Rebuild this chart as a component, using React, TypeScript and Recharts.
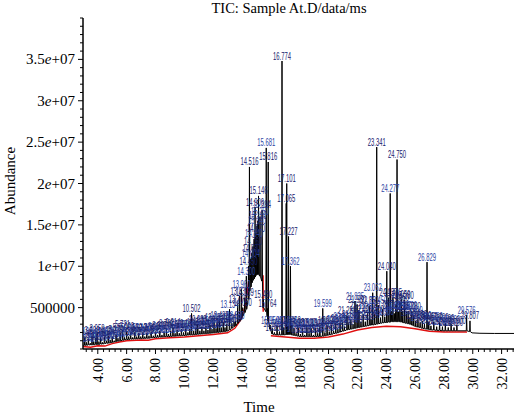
import { ComposedChart, Line, Scatter, XAxis, YAxis } from "recharts";

const W = 514;
const H = 415;

const TITLE = "TIC: Sample At.D/data/ms";

// peaks: [retention time (min), apex (x1e6), foot level (x1e6)]
const earlyPeaks = [
  [3.1, 1.5, 0.45], [3.22, 0.8, 0.45], [3.35, 1.2, 0.5], [3.48, 0.7, 0.5],
  [3.6, 1.6, 0.5], [3.72, 0.9, 0.5], [3.85, 1.3, 0.55], [3.95, 1.9, 0.55],
  [4.08, 0.9, 0.55], [4.2, 1.4, 0.6], [4.33, 0.8, 0.6], [4.46, 1.5, 0.65],
  [4.6, 1.0, 0.7], [4.73, 1.6, 0.7], [4.86, 1.1, 0.75], [5.0, 1.5, 0.8],
  [5.14, 1.0, 0.85], [5.27, 1.8, 0.9], [5.4, 1.3, 0.95], [5.55, 2.0, 1.0],
  [5.721, 2.3, 1.05], [5.85, 1.4, 1.1], [6.0, 2.1, 1.15], [6.14, 1.5, 1.15],
  [6.28, 1.9, 1.2], [6.42, 1.4, 1.2], [6.56, 2.0, 1.22], [6.7, 1.5, 1.22],
  [6.84, 1.9, 1.25], [6.98, 1.5, 1.25], [7.12, 2.0, 1.28], [7.26, 1.5, 1.28],
  [7.4, 1.9, 1.3], [7.55, 1.6, 1.3], [7.7, 2.0, 1.35], [7.85, 1.6, 1.38],
  [8.0, 2.1, 1.4], [8.15, 1.7, 1.42], [8.3, 2.2, 1.45], [8.45, 1.7, 1.45],
  [8.6, 2.1, 1.48], [8.76, 2.5, 1.5], [8.9, 1.8, 1.5], [9.05, 2.2, 1.52],
  [9.214, 2.6, 1.55], [9.36, 1.9, 1.55], [9.5, 2.3, 1.58], [9.65, 1.9, 1.6],
  [9.8, 2.4, 1.6], [9.95, 2.0, 1.62], [10.1, 2.5, 1.65], [10.25, 2.0, 1.68],
  [10.38, 2.4, 1.7], [10.502, 4.3, 1.7], [10.65, 2.2, 1.72], [10.8, 2.6, 1.75],
  [10.935, 3.0, 1.78], [11.08, 2.2, 1.8], [11.22, 2.7, 1.82], [11.36, 2.2, 1.85],
  [11.5, 2.8, 1.85], [11.64, 2.3, 1.88], [11.78, 2.9, 1.9], [11.92, 2.4, 1.92],
  [12.06, 3.2, 1.95], [12.2, 2.5, 1.98], [12.32, 3.0, 2.0], [12.437, 3.4, 2.02],
  [12.56, 2.6, 2.05], [12.7, 3.2, 2.08], [12.82, 2.6, 2.1], [12.95, 3.0, 2.15],
];

const clusterPeaks = [
  [13.134, 4.8, 2.3], [13.3, 3.1, 2.5], [13.45, 3.3, 2.7], [13.55, 3.4, 2.8],
  [13.7, 5.4, 3.1], [13.83, 6.4, 3.4], [13.96, 7.2, 3.7], [14.05, 5.0, 4.0],
  [14.189, 6.2, 4.4], [14.3, 8.8, 4.8], [14.45, 10.0, 6.0], [14.516, 22.0, 7.0],
  [14.604, 10.9, 7.5], [14.68, 11.6, 8.0], [14.76, 12.4, 8.3], [14.84, 13.3, 8.5],
  [14.906, 17.1, 8.7], [14.97, 14.0, 8.9], [15.04, 14.9, 9.0], [15.1, 15.5, 9.0],
  [15.146, 18.5, 9.0], [15.25, 16.0, 8.8], [15.394, 16.8, 8.2], [15.48, 6.0, 5.0],
  [15.681, 24.3, 4.5], [15.764, 4.9, 4.0], [15.816, 22.6, 3.4], [15.95, 2.9, 2.4],
];

const midPeaks = [
  [16.1, 2.5, 1.8], [16.25, 2.0, 1.75], [16.431, 2.8, 1.7], [16.6, 2.1, 1.7],
  [16.774, 34.8, 1.7], [16.9, 2.6, 1.7], [17.065, 17.6, 1.75], [17.101, 20.0, 1.75],
  [17.18, 2.8, 1.75], [17.227, 13.6, 1.75], [17.3, 2.2, 1.75], [17.362, 10.0, 1.75],
  [17.46, 2.9, 1.7], [17.608, 2.5, 1.65], [17.75, 1.9, 1.6], [17.9, 2.6, 1.55],
  [18.05, 1.8, 1.5], [18.2, 2.5, 1.5], [18.35, 1.7, 1.5], [18.5, 2.6, 1.5],
  [18.65, 1.9, 1.5], [18.8, 2.5, 1.5], [18.95, 1.7, 1.5], [19.1, 2.5, 1.5],
  [19.25, 1.9, 1.52], [19.4, 2.6, 1.52], [19.599, 4.9, 1.55], [19.75, 2.0, 1.6],
  [19.9, 2.8, 1.65], [20.05, 2.1, 1.7], [20.2, 2.9, 1.75], [20.35, 2.2, 1.85],
  [20.5, 3.0, 1.9], [20.65, 2.4, 1.95], [20.8, 3.1, 2.05], [20.972, 3.3, 2.15],
];

const latePeaks = [
  [21.1, 2.7, 2.2], [21.28, 4.0, 2.3], [21.4, 3.1, 2.35], [21.55, 3.6, 2.4],
  [21.7, 3.0, 2.45], [21.835, 5.8, 2.5], [21.98, 5.4, 2.55], [22.11, 4.7, 2.6],
  [22.25, 3.3, 2.65], [22.4, 4.2, 2.7], [22.55, 3.3, 2.75], [22.7, 4.3, 2.8],
  [22.85, 5.2, 2.85], [22.95, 3.6, 2.9], [23.062, 6.8, 2.9], [23.2, 4.2, 2.95],
  [23.341, 24.4, 3.0], [23.45, 5.3, 3.05], [23.6, 3.8, 3.1], [23.75, 4.8, 3.15],
  [23.9, 3.9, 3.2], [24.04, 9.4, 3.2], [24.157, 6.2, 3.25], [24.277, 18.8, 3.25],
  [24.38, 4.6, 3.3], [24.465, 6.2, 3.3], [24.56, 4.3, 3.3], [24.66, 5.4, 3.3],
  [24.75, 22.9, 3.3], [24.85, 4.5, 3.3], [24.95, 5.6, 3.3], [25.05, 6.0, 3.25],
  [25.15, 4.6, 3.2], [25.28, 5.9, 3.15], [25.4, 4.5, 3.1], [25.52, 4.6, 3.05],
  [25.65, 3.8, 3.0], [25.78, 4.5, 2.9], [25.909, 4.1, 2.8], [26.05, 3.4, 2.7],
  [26.2, 3.6, 2.65], [26.35, 3.2, 2.6], [26.5, 3.4, 2.5], [26.65, 3.0, 2.45],
  [26.829, 10.5, 2.4], [26.95, 3.3, 2.35], [27.1, 2.8, 2.3], [27.3, 3.3, 2.3],
  [27.5, 2.7, 2.25], [27.7, 3.2, 2.25], [27.9, 2.7, 2.2], [28.1, 3.1, 2.2],
  [28.3, 2.6, 2.2], [28.5, 3.0, 2.2], [28.7, 2.6, 2.2], [28.9, 2.9, 2.2],
  [29.576, 4.1, 2.2], [29.807, 3.4, 2.1],
];

// trace points without a peak: [time, level (x1e6)]
const startTrace = [[2.98, 0.45]];
const tailTrace = [[29.95, 1.95], [30.5, 1.9], [31.5, 1.88], [32.86, 1.88]];

// red integration baseline, null = gap
const redBaseline: [number, number | null][] = [
  [2.98, 0.3], [3.5, 0.2], [4.0, 0.4], [4.5, 0.35], [5.0, 0.65], [5.5, 0.85],
  [6.0, 1.0], [7.0, 1.1], [7.5, 1.05], [8.0, 1.25], [9.0, 1.35], [10.0, 1.45],
  [11.0, 1.6], [12.0, 1.75], [13.0, 1.95], [13.5, 2.5], [13.9, 3.5], [14.2, 5.0],
  [14.5, 8.5], [14.52, null], [15.46, 8.9], [15.47, 4.5], [15.5, null],
  [16.0, 1.6], [17.0, 1.45], [18.0, 1.3], [19.0, 1.3], [20.0, 1.45], [21.0, 1.8],
  [22.0, 2.3], [23.0, 2.6], [24.0, 2.75], [25.0, 2.7], [26.0, 2.45], [27.0, 2.15],
  [28.0, 2.05], [29.0, 2.05], [29.6, 2.05],
];

const xMajor = [4, 6, 8, 10, 12, 14, 16, 18, 20, 22, 24, 26, 28, 30, 32];
const xLabels = ["4.00", "6.00", "8.00", "10.00", "12.00", "14.00", "16.00", "18.00",
  "20.00", "22.00", "24.00", "26.00", "28.00", "30.00", "32.00"];
const yMajor = [5e6, 1e7, 1.5e7, 2e7, 2.5e7, 3e7, 3.5e7];
const yLabels = ["500000", "1e+07", "1.5e+07", "2e+07", "2.5e+07", "3e+07", "3.5e+07"];

const xTicks = Array.from({ length: 75 }, (_, i) => +(3.2 + i * 0.4).toFixed(1));
const yTicks = Array.from({ length: 41 }, (_, i) => i * 1e6);

const allPeaks = [...earlyPeaks, ...clusterPeaks, ...midPeaks, ...latePeaks];

const trace: { t: number; v: number }[] = [];
startTrace.forEach(([t, v]) => trace.push({ t, v: v * 1e6 }));
allPeaks.forEach(([t, top, foot]) => {
  trace.push({ t: t - 0.025, v: foot * 1e6 });
  trace.push({ t, v: top * 1e6 });
  trace.push({ t: t + 0.025, v: foot * 1e6 });
});
tailTrace.forEach(([t, v]) => trace.push({ t, v: v * 1e6 }));

const peakTops = allPeaks.map(([t, top]) => ({ t, v: top * 1e6, label: t.toFixed(3) }));
const redData = redBaseline.map(([t, v]) => ({ t, v: v === null ? null : v * 1e6 }));

const SERIF = "'Liberation Serif', 'Times New Roman', serif";

function XTick(props: any) {
  const { x, y, payload } = props;
  const idx = xMajor.findIndex((m) => Math.abs(m - payload.value) < 1e-6);
  const major = idx >= 0;
  return (
    <g>
      <line x1={x} x2={x} y1={y} y2={y + (major ? 5 : 3)} stroke="#000" strokeWidth={1} />
      {major && (
        <text
          transform={`translate(${x + 5},${y + 9}) rotate(-90)`}
          textAnchor="end"
          fontSize={14}
          fontFamily={SERIF}
          fill="#000"
        >
          {xLabels[idx]}
        </text>
      )}
    </g>
  );
}

function YTick(props: any) {
  const { x, y, payload } = props;
  const idx = yMajor.findIndex((m) => Math.abs(m - payload.value) < 1);
  const major = idx >= 0;
  const parts = major ? yLabels[idx].split("e") : [];
  return (
    <g>
      <line x1={x - (major ? 5 : 3)} x2={x} y1={y} y2={y} stroke="#000" strokeWidth={1} />
      {major && (
        <text x={x - 8} y={y + 5} textAnchor="end" fontSize={15} fontFamily={SERIF} fill="#000">
          {parts[0]}
          {parts.length > 1 && <tspan fontStyle="italic">e</tspan>}
          {parts.length > 1 && parts[1]}
        </text>
      )}
    </g>
  );
}

function PeakLabel(props: any) {
  const { cx, cy, payload, index } = props;
  if (cx == null || cy == null) return <g />;
  const s = payload.label as string;
  return (
    <text
      x={cx}
      y={cy - 1.5}
      textAnchor="middle"
      fontSize={10.5}
      fontFamily="'Liberation Sans', Arial, sans-serif"
      textLength={s.length * 3}
      lengthAdjust="spacingAndGlyphs"
      fill={index % 3 === 0 ? "#2c44a4" : "#16206e"}
    >
      {s}
    </text>
  );
}

export default function App() {
  return (
    <div style={{ position: "absolute", left: 0, top: 0, width: W, height: H, background: "#fff" }}>
      <ComposedChart width={W} height={H} margin={{ top: 18, right: 0, bottom: 0, left: 0 }}>
        <XAxis
          dataKey="t"
          type="number"
          domain={[2.975, 32.86]}
          allowDataOverflow
          ticks={xTicks}
          interval={0}
          height={66}
          tickLine={false}
          tickSize={0}
          tickMargin={0}
          tick={<XTick />}
          axisLine={{ stroke: "#000", strokeWidth: 1.5 }}
        />
        <YAxis
          type="number"
          domain={[0, 4e7]}
          allowDataOverflow
          ticks={yTicks}
          interval={0}
          width={83}
          tickLine={false}
          tickSize={0}
          tickMargin={0}
          tick={<YTick />}
          axisLine={{ stroke: "#000", strokeWidth: 1.5 }}
        />
        <Line
          data={redData}
          dataKey="v"
          type="linear"
          stroke="#e01010"
          strokeWidth={1.5}
          dot={false}
          connectNulls={false}
          isAnimationActive={false}
        />
        <Line
          data={trace}
          dataKey="v"
          type="linear"
          stroke="#000"
          strokeWidth={1}
          dot={false}
          isAnimationActive={false}
        />
        <Scatter data={peakTops} dataKey="v" shape={<PeakLabel />} isAnimationActive={false} />
      </ComposedChart>
      <svg width={W} height={H} style={{ position: "absolute", left: 0, top: 0, pointerEvents: "none" }}>
        <text x={289} y={13} textAnchor="middle" fontSize={14.5} fontFamily={SERIF} fill="#000">
          {TITLE}
        </text>
        <text x={259} y={412} textAnchor="middle" fontSize={15} fontFamily={SERIF} fill="#000">
          Time
        </text>
        <text
          transform="translate(15,181) rotate(-90)"
          textAnchor="middle"
          fontSize={15}
          fontFamily={SERIF}
          fill="#000"
        >
          Abundance
        </text>
      </svg>
    </div>
  );
}
